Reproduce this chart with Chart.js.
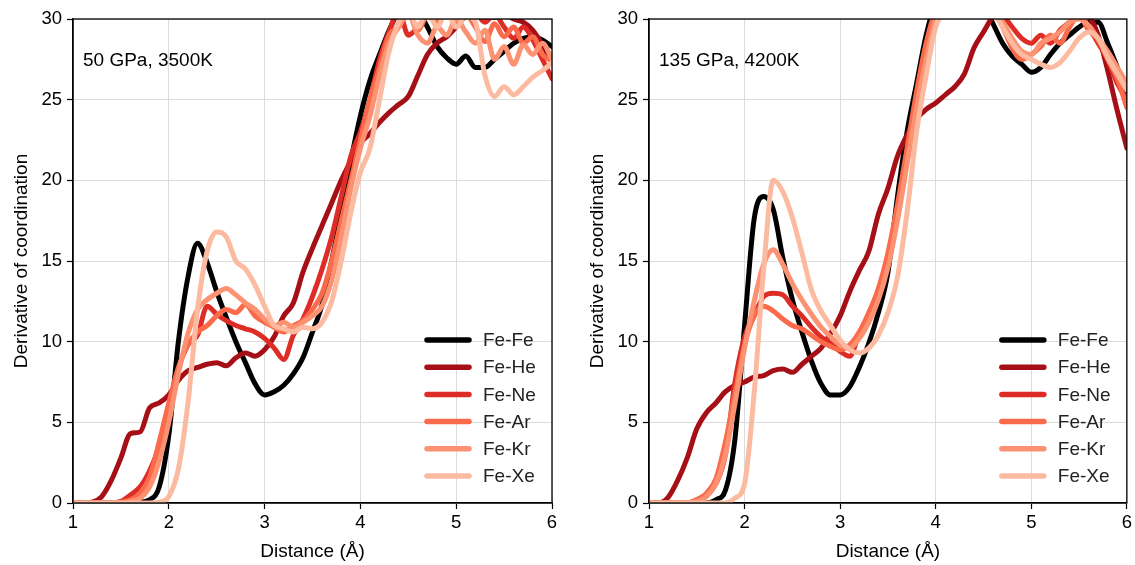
<!DOCTYPE html>
<html>
<head>
<meta charset="utf-8">
<script src="https://cdn.jsdelivr.net/npm/chart.js@4.4.1/dist/chart.umd.min.js"></script>
<style>
  body { margin: 0; background: #fff; }
  #wrap { position: relative; width: 1135px; height: 565px; }
  #left { position: absolute; left: 0; top: 0; }
  #right { position: absolute; left: 576px; top: 0; }
</style>
</head>
<body>
<div id="wrap">
  <canvas id="left" width="576" height="565"></canvas>
  <canvas id="right" width="559" height="565"></canvas>
</div>
<script>
// distance grid (Å)
const distance = [1.0,1.1,1.2,1.3,1.4,1.5,1.6,1.7,1.8,1.9,
  2.0,2.1,2.2,2.3,2.4,2.5,2.6,2.7,2.8,2.9,
  3.0,3.1,3.2,3.3,3.4,3.5,3.6,3.7,3.8,3.9,
  4.0,4.1,4.2,4.3,4.4,4.5,4.6,4.7,4.8,4.9,
  5.0,5.1,5.2,5.3,5.4,5.5,5.6,5.7,5.8,5.9,
  6.0];

const seriesNames = ['Fe-Fe', 'Fe-He', 'Fe-Ne', 'Fe-Ar', 'Fe-Kr', 'Fe-Xe'];
const xTicks = [1, 2, 3, 4, 5, 6];
const yTicks = [0, 5, 10, 15, 20, 25, 30];

// 50 GPa, 3500K
const ffLeft = [0,0,0,0,0,0,0,0.05,0.2,1.0,
  4.2,10,14,16.1,14.9,13.1,11.5,10,8.7,7.4,
  6.7,6.9,7.3,8.0,9.0,10.6,12.3,15,18,21.2,
  24,26.2,27.8,29.3,30.5,31,30.5,29.5,28.3,27.6,
  27.2,27.7,27.0,27.0,27.5,28,28.5,28.8,28.9,28.7,
  28.3];
const heLeft = [0,0,0.05,0.4,1.4,2.8,4.3,4.4,5.9,6.2,
  6.7,7.6,8.2,8.4,8.6,8.7,8.5,9.0,9.3,9.1,
  9.5,10.3,11.6,12.4,14.3,15.8,17.2,18.6,20.0,21.2,
  22.3,22.9,23.6,24.2,24.7,25.2,26.5,27.8,28.5,28.9,
  29.5,30.2,30.5,30.3,30.1,30.3,30.0,29.8,29.3,28.4,
  27.3];
const neLeft = [0,0,0,0,0,0.1,0.5,1.0,2.0,3.5,
  5.6,8.3,9.8,10.4,12.2,11.7,11.3,11.0,10.8,10.6,
  10.2,9.6,8.9,10.4,11.4,12.8,14.5,16.5,19.0,21.5,
  23.0,25.0,27.5,29.2,30.5,29.0,29.5,30.3,31.0,30.2,
  30.5,31.0,30.5,29.8,30.3,29.5,28.8,29.5,28.7,27.5,
  26.3];
const arLeft = [0,0,0,0,0,0.05,0.2,0.6,1.6,3.8,
  6.2,8.4,9.8,10.6,11.0,11.6,12.0,11.8,12.3,11.6,
  11.2,10.9,10.6,11.0,11.3,12.0,13.0,15.0,17.5,20.0,
  22.5,25.0,27.0,29.0,29.5,30.5,29.3,30.2,29.8,30.5,
  29.8,30.3,29.5,28.6,29.7,28.9,29.5,28.5,28.9,27.8,
  27.4];
const krLeft = [0,0,0,0,0,0,0.1,0.3,1.0,2.6,
  5.0,8.0,10.5,12.0,12.6,13.0,13.3,12.9,12.4,12.0,
  11.4,11.0,11.2,10.9,11.2,11.6,12.2,13.8,16.5,19.5,
  22.0,24.0,26.5,28.5,29.5,30.3,29.0,28.5,29.5,29.0,
  30.0,29.2,28.5,29.3,27.5,28.3,27.2,28.4,27.8,28.5,
  27.5];
const xeLeft = [0,0,0,0,0,0,0,0,0,0.05,
  0.4,2.1,6.2,12.0,15.6,16.8,16.5,15.0,14.5,13.5,
  12.2,11.0,10.8,10.6,10.9,10.8,11.2,12.5,15.0,18.0,
  20.5,22.0,25.0,28.0,29.8,30.5,29.5,30.5,29.5,30.5,
  29.5,30.2,29.8,26.5,25.2,25.8,25.3,25.8,26.4,26.8,
  27.3];

// 135 GPa, 4200K
const ffRight = [0,0,0,0,0,0,0,0.2,0.8,4.0,
  11,17.6,19.0,18.2,15.2,12.6,10.6,8.8,7.4,6.7,
  6.7,7.2,8.4,9.9,11.8,14.3,19,23,26,29,
  31,31.5,31.5,31.5,31.2,30.8,29.7,28.5,27.7,27.2,
  26.7,27.0,27.8,28.5,29,29.5,29.8,29.8,28.5,27,
  25.5];
const heRight = [0,0,0.35,1.4,2.8,4.6,5.6,6.2,6.9,7.3,
  7.5,7.8,7.9,8.2,8.3,8.1,8.6,9.1,9.6,10.5,
  11.6,13.1,14.4,15.6,17.9,19.5,21.5,22.8,23.8,24.4,
  24.8,25.3,25.8,26.6,28.2,29.2,30.2,31,31,31,
  30.5,30.8,31,31,30.5,30.5,30.2,29,26.8,24.3,
  22];
const neRight = [0,0,0,0,0,0.2,0.5,1.2,3.0,7.5,
  10.3,11.6,12.8,13.0,12.9,12.2,11.6,10.9,10.3,9.9,
  9.4,9.1,10.5,11.6,13.0,15.0,18.0,21.5,25.0,28.0,
  30.5,31,31,31,31,30.5,31,30.3,29.5,28.8,
  28.5,29,28.5,29.3,29.8,30.3,29.5,28.5,27.5,26,
  25];
const arRight = [0,0,0,0,0,0.2,0.6,1.5,3.8,6.8,
  9.8,11.6,12.2,11.9,11.4,11.0,10.8,10.4,10.0,9.7,
  9.5,9.8,10.6,11.8,13.3,15.5,18.5,22,25.5,28.5,
  30.5,31,31,31,31,31,30.5,29.5,28.2,27.5,
  27.8,28.3,29,28.5,29.5,30.2,29.3,28.7,27.5,26.3,
  24.5];
const krRight = [0,0,0,0,0,0.1,0.4,1.2,3.0,6.2,
  9.6,12.5,14.8,15.7,14.8,13.6,12.6,11.7,10.9,10.3,
  9.8,9.6,10.2,11.2,12.6,14.6,17.5,21,24.5,27.5,
  30,31,31,31,31,31,30.5,29.8,28.8,28,
  27.8,28.5,28.8,29.2,29.8,30,29.6,28.8,28,27,
  26];
const xeRight = [0,0,0,0,0,0,0,0,0,0.3,
  1.2,6.8,14.5,20.0,19.3,17.7,15.5,13.2,11.9,11.0,
  10.1,9.5,9.3,9.6,10.4,11.8,14.0,18.0,23.0,26.5,
  29.5,30.5,31,31,31,31,30.5,29.5,28.5,27.8,
  27.5,27.2,27.0,27.3,28,28.8,29.2,28.8,27.6,26.6,
  25.6];

const seriesColors = ['#000000', '#a50f15', '#de2d26', '#fb6a4a', '#fc9272', '#fcbba1'];
const FONT = '"Liberation Sans", Arial, sans-serif';
Chart.defaults.font.family = FONT;
Chart.defaults.color = '#000';

// frame, corner note and legend inside the axes
const panelDecor = {
  id: 'panelDecor',
  afterDatasetsDraw(chart, args, opts) {
    const {ctx, chartArea: a} = chart;
    ctx.save();
    ctx.strokeStyle = '#000';
    ctx.lineWidth = 1.3;
    ctx.strokeRect(a.left, a.top, a.right - a.left, a.bottom - a.top);

    ctx.font = '19px ' + FONT;
    ctx.fillStyle = '#000';
    ctx.textBaseline = 'alphabetic';
    ctx.fillText(opts.note, a.left + 10, a.top + 47);

    chart.data.datasets.forEach((ds, i) => {
      const y = a.bottom - 163 + i * 27.2;
      ctx.strokeStyle = ds.borderColor;
      ctx.lineWidth = 5.5;
      ctx.lineCap = 'round';
      ctx.beginPath();
      ctx.moveTo(a.right - 125, y);
      ctx.lineTo(a.right - 83, y);
      ctx.stroke();
      ctx.fillStyle = '#222';
      ctx.textBaseline = 'middle';
      ctx.fillText(ds.label, a.right - 69, y + 1);
    });
    ctx.restore();
  }
};

function makeSets(series) {
  return seriesNames.map((name, i) => ({
    label: name,
    data: distance.map((x, k) => ({x: x, y: series[i][k]})),
    borderColor: seriesColors[i],
    backgroundColor: seriesColors[i],
    borderWidth: 5,
    pointRadius: 0,
    cubicInterpolationMode: 'monotone',
    borderJoinStyle: 'round',
    borderCapStyle: 'round',
    order: seriesNames.length - i,
    clip: 0
  }));
}

function makeChart(id, series, note, rightPad) {
  new Chart(document.getElementById(id), {
    type: 'line',
    data: { datasets: makeSets(series) },
    options: {
      responsive: false,
      animation: false,
      layout: { padding: { left: 0, top: 19, right: rightPad, bottom: 0 } },
      plugins: {
        legend: { display: false },
        tooltip: { enabled: false },
        panelDecor: { note: note }
      },
      scales: {
        x: {
          type: 'linear', min: 1, max: 6,
          afterBuildTicks: s => { s.ticks = xTicks.map(v => ({value: v})); },
          ticks: { font: { size: 18.5 }, color: '#000', padding: 3 },
          grid: { color: '#dcdcdc', lineWidth: 1, tickLength: 6, tickColor: '#000', tickWidth: 1.2 },
          border: { display: true, color: '#000', width: 1.3 },
          title: { display: true, text: 'Distance (Å)', font: { size: 19 }, color: '#000', padding: { top: 0, bottom: 2 } },
          afterFit: s => { s.height = 62; }
        },
        y: {
          min: 0, max: 30,
          afterBuildTicks: s => { s.ticks = yTicks.map(v => ({value: v})); },
          ticks: { font: { size: 18.5 }, color: '#000', padding: 5 },
          grid: { color: '#dcdcdc', lineWidth: 1, tickLength: 6, tickColor: '#000', tickWidth: 1.2 },
          border: { display: true, color: '#000', width: 1.3 },
          title: { display: true, text: 'Derivative of coordination', font: { size: 19 }, color: '#000', padding: { top: 10, bottom: 0 } },
          afterFit: s => { s.width = 73; }
        }
      }
    },
    plugins: [panelDecor]
  });
}

makeChart('left', [ffLeft, heLeft, neLeft, arLeft, krLeft, xeLeft], '50 GPa, 3500K', 24);
makeChart('right', [ffRight, heRight, neRight, arRight, krRight, xeRight], '135 GPa, 4200K', 7);
</script>
</body>
</html>
